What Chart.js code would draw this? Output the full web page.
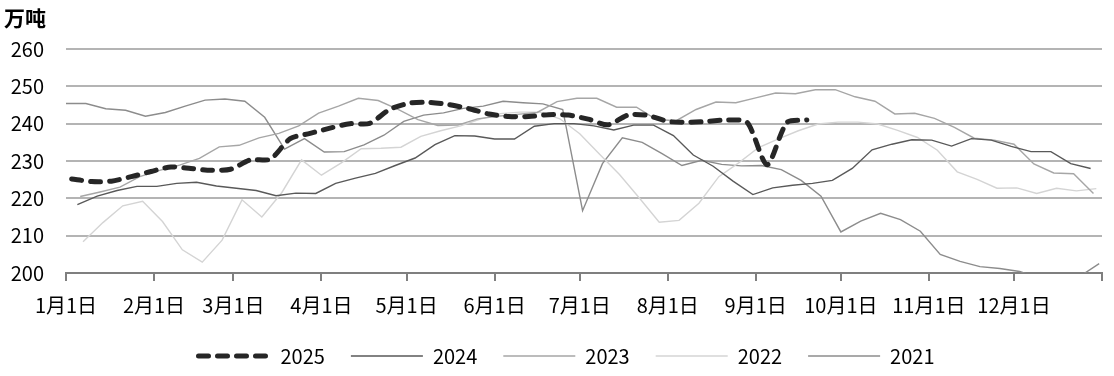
<!DOCTYPE html>
<html>
<head>
<meta charset="utf-8">
<script src="https://cdn.jsdelivr.net/npm/chart.js@4.4.1/dist/chart.umd.min.js"></script>
<style>
  html, body { margin: 0; padding: 0; background: #fff; }
  #wrap { width: 1114px; height: 376px; }
</style>
</head>
<body>
<div id="wrap"><canvas id="chart"></canvas></div>
<script>
// month ticks (day of year) and their labels
const monthDays = [0, 31, 59, 90, 120, 151, 181, 212, 243, 273, 304, 334, 365];
const monthLabels = ['1月1日', '2月1日', '3月1日', '4月1日', '5月1日', '6月1日', '7月1日', '8月1日', '9月1日', '10月1日', '11月1日', '12月1日', ''];

const years = ['2025', '2024', '2023', '2022', '2021'];
// day of year of the first weekly (Friday) reading
const firstDay = [2, 4, 5, 6, 0];

const s2025 = [225.2, 224.5, 224.6, 225.8, 227.2, 228.4, 228.0, 227.5, 227.8, 230.3, 230.5, 236.0, 237.4, 238.8, 240.0, 240.1, 243.8, 245.5, 245.7, 245.1, 244.0, 242.6, 241.9, 241.9, 242.4, 242.3, 241.2, 239.7, 242.3, 242.2, 240.6, 240.4, 240.6, 241.0, 240.3, 229.0, 240.3, 241.0];
const s2024 = [218.3, 220.6, 222.1, 223.2, 223.2, 224.0, 224.3, 223.3, 222.7, 222.1, 220.7, 221.4, 221.3, 224.0, 225.4, 226.7, 228.8, 230.8, 234.4, 236.8, 236.7, 235.9, 235.9, 239.3, 240.0, 240.0, 239.4, 238.3, 239.6, 239.6, 236.8, 231.6, 228.6, 224.6, 221.0, 222.8, 223.5, 224.0, 224.8, 228.0, 233.0, 234.5, 235.7, 235.6, 234.0, 236.0, 235.6, 233.9, 232.5, 232.5, 229.3, 228.0];
const s2023 = [220.5, 221.7, 223.0, 225.8, 227.5, 228.9, 230.7, 233.8, 234.2, 236.2, 237.4, 239.4, 242.8, 244.7, 246.8, 246.2, 243.8, 241.1, 239.5, 239.6, 241.3, 242.0, 242.5, 243.0, 245.9, 246.8, 246.8, 244.4, 244.4, 241.1, 240.8, 243.8, 245.8, 245.6, 246.9, 248.2, 248.0, 249.1, 249.1, 247.2, 246.0, 242.6, 242.8, 241.4, 239.0, 236.1, 235.6, 234.5, 229.2, 226.8, 226.6, 221.3];
const s2022 = [208.4, 213.5, 218.0, 219.2, 213.8, 206.2, 202.9, 208.8, 219.6, 215.0, 221.5, 230.3, 226.2, 229.5, 233.3, 233.4, 233.7, 236.6, 238.1, 239.4, 241.2, 242.7, 243.1, 243.1, 241.3, 237.3, 231.8, 226.4, 220.1, 213.6, 214.1, 218.7, 225.8, 229.5, 233.6, 235.9, 238.1, 239.9, 240.4, 240.4, 239.9, 238.2, 236.3, 232.9, 227.1, 225.1, 222.7, 222.8, 221.3, 222.7, 222.0, 222.6];
const s2021 = [245.4, 245.4, 244.0, 243.6, 242.0, 243.0, 244.7, 246.3, 246.6, 246.0, 241.7, 233.2, 236.0, 232.4, 232.5, 234.3, 236.9, 240.6, 242.3, 242.9, 244.1, 244.7, 246.0, 245.6, 245.3, 243.8, 216.7, 229.3, 236.2, 235.0, 232.0, 228.8, 230.2, 229.1, 228.7, 228.8, 227.7, 224.8, 220.6, 211.0, 213.9, 216.0, 214.3, 211.2, 205.0, 203.1, 201.7, 201.2, 200.4, 198.6, 198.3, 199.0, 202.5];

const series = [s2025, s2024, s2023, s2022, s2021];
const colors = ['#262626', '#595959', '#a6a6a6', '#d4d4d4', '#8c8c8c'];

const weekly = (vals, start) => vals.map((v, i) => ({ x: start + 7 * i, y: v }));

const datasets = years.map((y, k) => ({
    label: y,
    data: weekly(series[k], firstDay[k]),
    borderColor: colors[k],
    backgroundColor: colors[k],
    borderWidth: k === 0 ? 5 : 1.4,
    borderDash: k === 0 ? [10, 9] : [],
    borderCapStyle: k === 0 ? 'round' : 'butt',
    tension: k === 0 ? 0.25 : 0,
    pointRadius: 0,
    fill: false
}));

const unitLabel = {
    id: 'unitLabel',
    afterDraw(chart) {
        const ctx = chart.ctx;
        ctx.save();
        ctx.font = 'bold 21px "Noto Sans CJK SC", sans-serif';
        ctx.fillStyle = '#000';
        ctx.textBaseline = 'middle';
        ctx.fillText('万吨', 4, 18);
        ctx.restore();
    }
};

// nudge the legend row a little to the right, as in the original
const legendShift = {
    id: 'legendShift',
    afterLayout(chart) {
        if (chart.legend) {
            chart.legend.left += 15;
            chart.legend.right += 15;
        }
    }
};

Chart.defaults.font.family = '"Noto Sans CJK SC", sans-serif';
Chart.defaults.color = '#000';

// legend samples take the line style of their dataset (dash, width, cap)
const lineLabels = chart => Chart.defaults.plugins.legend.labels.generateLabels(chart).map(l => {
    const ds = chart.data.datasets[l.datasetIndex];
    return { ...l, lineDash: ds.borderDash, lineWidth: ds.borderWidth, strokeStyle: ds.borderColor, lineCap: ds.borderCapStyle };
});

new Chart(document.getElementById('chart'), {
    type: 'line',
    data: { datasets },
    options: {
        responsive: true,
        maintainAspectRatio: false,
        animation: false,
        layout: { padding: { top: 49, right: 11, left: 0, bottom: 0 } },
        plugins: {
            tooltip: { enabled: false },
            legend: {
                position: 'bottom',
                labels: {
                    usePointStyle: true,
                    pointStyle: 'line',
                    pointStyleWidth: 72,
                    padding: 26,
                    font: { size: 20 },
                    color: '#000',
                    generateLabels: lineLabels
                }
            }
        },
        scales: {
            x: {
                type: 'linear',
                min: 0,
                max: 365,
                afterBuildTicks: s => { s.ticks = monthDays.map(v => ({ value: v })); },
                afterFit: s => { s.height = 47; },
                ticks: {
                    autoSkip: false,
                    maxRotation: 0,
                    padding: 12,
                    font: { size: 20 },
                    callback: (v) => monthLabels[monthDays.indexOf(v)]
                },
                grid: { drawOnChartArea: false, drawTicks: true, tickLength: 8, color: '#7f7f7f', lineWidth: 2 },
                border: { display: true, color: '#7f7f7f', width: 2 }
            },
            y: {
                min: 200,
                max: 260,
                afterFit: s => { s.width = 66; },
                ticks: { stepSize: 10, padding: 22, font: { size: 20 } },
                grid: { color: '#b4b4b4', lineWidth: 2, drawTicks: false },
                border: { display: false }
            }
        }
    },
    plugins: [unitLabel, legendShift]
});
</script>
</body>
</html>
